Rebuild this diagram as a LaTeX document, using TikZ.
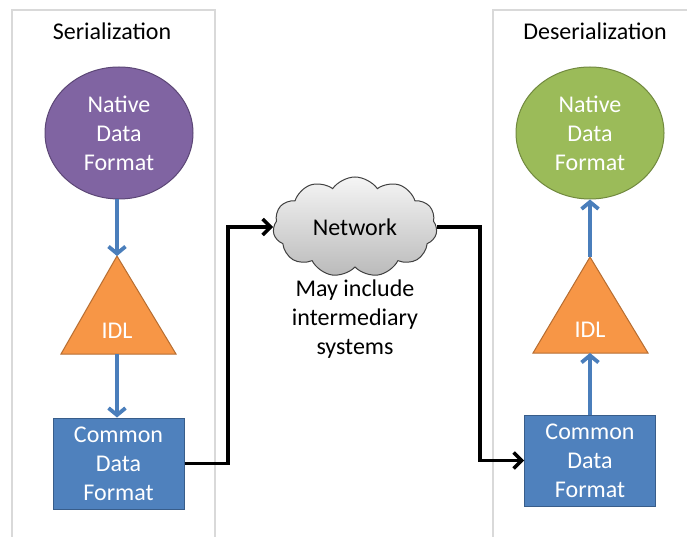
\documentclass[tikz,border=0pt]{standalone}
\usepackage{fontspec}
\setmainfont{Carlito}
\usetikzlibrary{arrows.meta,shapes.symbols,shapes.geometric}
\definecolor{panelgray}{HTML}{D9D9D9}
\definecolor{purplefill}{HTML}{8064A2}
\definecolor{purpledraw}{HTML}{5C4776}
\definecolor{greenfill}{HTML}{9BBB59}
\definecolor{greendraw}{HTML}{71893F}
\definecolor{orangefill}{HTML}{F79646}
\definecolor{orangedraw}{HTML}{B66D31}
\definecolor{bluefill}{HTML}{4F81BD}
\definecolor{bluedraw}{HTML}{385D8A}
\definecolor{arrowblue}{HTML}{4A7EBB}
\tikzset{
  txt/.style={font=\fontsize{24}{29}\selectfont, align=center, inner sep=0pt},
  panel/.style={draw=panelgray, line width=1.5pt},
  natv/.style={ellipse, minimum width=148pt, minimum height=132pt, inner sep=0pt, line width=1pt, txt, text=white},
  cdf/.style={rectangle, fill=bluefill, draw=bluedraw, line width=1pt, minimum width=131pt, minimum height=91pt, inner sep=0pt, txt, text=white},
  tri/.style={fill=orangefill, draw=orangedraw, line width=1pt, line join=miter},
  flow/.style={draw=arrowblue, line width=3.8pt, -{Straight Barb[length=7pt,width=17pt]}},
  link/.style={draw=black, line width=3.5pt, -{Straight Barb[length=8pt,width=16pt]}},
}
\begin{document}
\begin{tikzpicture}[x=1pt, y=-1pt]
\useasboundingbox (0,0) rectangle (687,537);
\clip (0,0) rectangle (687,537);
% panels
\draw[panel] (12,560) -- (12,10) -- (215,10) -- (215,560);
\draw[panel] (493,560) -- (493,10) -- (700,10);
\node[txt] (hs) at (112,31) {Serialization};
\node[txt] (hd) at (595,31) {Deserialization};
% left column
\node[natv, fill=purplefill, draw=purpledraw] (n1) at (119,133) {Native\\Data\\Format};
\coordinate (t1top) at (117,256);
\coordinate (t1base) at (117,354);
\draw[tri] (t1top) -- (176,354) -- (61,354) -- cycle;
\node[txt, text=white] (idl1) at (117,331) {IDL};
\node[cdf] (c1) at (118.5,463.5) {Common\\Data\\Format};
\draw[flow] (n1.south -| t1top) -- (t1top);
\draw[flow] (t1base) -- (c1.north -| t1base);
% right column
\node[natv, fill=greenfill, draw=greendraw] (n2) at (590,133) {Native\\Data\\Format};
\coordinate (t2top) at (590,257);
\coordinate (t2base) at (590,353);
\draw[tri] (t2top) -- (648,353) -- (533,353) -- cycle;
\node[txt, text=white] (idl2) at (590,330) {IDL};
\node[cdf] (c2) at (590,460.5) {Common\\Data\\Format};
\draw[flow] (c2.north) -- (t2base);
\draw[flow] (t2top) -- (n2.south);
% network
\node[cloud, cloud puffs=11, cloud puff arc=110, aspect=1.7, minimum width=164pt, minimum height=100pt, inner sep=0pt,
      top color=black!4, bottom color=black!27, draw=black!75, line width=1pt, txt, text=black] (net) at (355,227) {Network};
\node[txt] (note) at (355,319) {May include\\intermediary\\systems};
\coordinate (j1) at (228,0);
\coordinate (j2) at (480,0);
\draw[link] (c1.east) -- (c1.east -| j1) |- (net.west);
\draw[link] (net.east) -- (net.east -| j2) |- (c2.west);
\end{tikzpicture}
\end{document}
